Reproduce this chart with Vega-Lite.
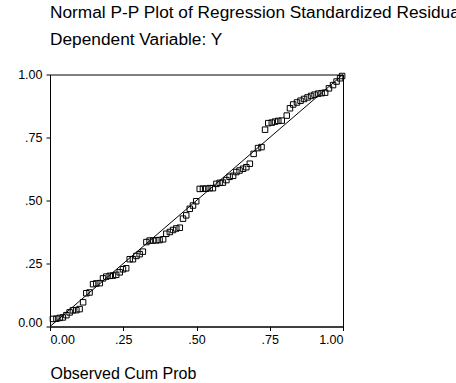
{
  "$schema": "https://vega.github.io/schema/vega-lite/v6.json",
  "width": 293,
  "height": 252,
  "autosize": {"type": "none"},
  "padding": {"left": 50, "top": 74.5, "right": 113, "bottom": 56.5},
  "background": "white",
  "title": {
    "text": ["Normal P-P Plot of Regression Standardized Residual", "Dependent Variable: Y"],
    "anchor": "start",
    "frame": "group",
    "font": "Liberation Sans",
    "fontSize": 17.3,
    "fontWeight": "normal",
    "color": "black",
    "lineHeight": 27,
    "offset": 20
  },
  "config": {
    "view": {"stroke": "black", "strokeWidth": 1},
    "axis": {
      "domainColor": "black",
      "tickColor": "black",
      "labelColor": "black",
      "labelFont": "Liberation Sans",
      "labelFontSize": 12.5,
      "tickSize": 4,
      "grid": false,
      "labelPadding": 3,
      "titleFont": "Liberation Sans",
      "titleColor": "black"
    }
  },
  "layer": [
    {
      "data": {"values": [{"px": 0, "py": 0}, {"px": 1, "py": 1}]},
      "mark": {"type": "line", "color": "black", "strokeWidth": 1},
      "encoding": {
        "x": {"field": "px", "type": "quantitative"},
        "y": {"field": "py", "type": "quantitative"}
      }
    },
    {
      "data": {"values": [
        {"obs": 0.010, "exp": 0.030}, {"obs": 0.022, "exp": 0.031}, {"obs": 0.033, "exp": 0.034},
        {"obs": 0.044, "exp": 0.036}, {"obs": 0.056, "exp": 0.045}, {"obs": 0.067, "exp": 0.056},
        {"obs": 0.078, "exp": 0.064}, {"obs": 0.090, "exp": 0.065}, {"obs": 0.101, "exp": 0.069},
        {"obs": 0.113, "exp": 0.096}, {"obs": 0.124, "exp": 0.132}, {"obs": 0.135, "exp": 0.135},
        {"obs": 0.147, "exp": 0.168}, {"obs": 0.158, "exp": 0.171}, {"obs": 0.170, "exp": 0.172},
        {"obs": 0.181, "exp": 0.191}, {"obs": 0.192, "exp": 0.198}, {"obs": 0.204, "exp": 0.201},
        {"obs": 0.215, "exp": 0.202}, {"obs": 0.226, "exp": 0.205}, {"obs": 0.238, "exp": 0.215},
        {"obs": 0.249, "exp": 0.227}, {"obs": 0.260, "exp": 0.231}, {"obs": 0.272, "exp": 0.267},
        {"obs": 0.283, "exp": 0.267}, {"obs": 0.295, "exp": 0.280}, {"obs": 0.306, "exp": 0.287},
        {"obs": 0.317, "exp": 0.297}, {"obs": 0.329, "exp": 0.335}, {"obs": 0.340, "exp": 0.341},
        {"obs": 0.352, "exp": 0.341}, {"obs": 0.363, "exp": 0.342}, {"obs": 0.374, "exp": 0.343},
        {"obs": 0.386, "exp": 0.346}, {"obs": 0.397, "exp": 0.368}, {"obs": 0.409, "exp": 0.375},
        {"obs": 0.420, "exp": 0.383}, {"obs": 0.431, "exp": 0.389}, {"obs": 0.443, "exp": 0.392},
        {"obs": 0.454, "exp": 0.428}, {"obs": 0.465, "exp": 0.441}, {"obs": 0.477, "exp": 0.467},
        {"obs": 0.488, "exp": 0.480}, {"obs": 0.499, "exp": 0.497}, {"obs": 0.511, "exp": 0.546},
        {"obs": 0.522, "exp": 0.547}, {"obs": 0.533, "exp": 0.547}, {"obs": 0.545, "exp": 0.549},
        {"obs": 0.556, "exp": 0.549}, {"obs": 0.568, "exp": 0.566}, {"obs": 0.579, "exp": 0.570},
        {"obs": 0.590, "exp": 0.571}, {"obs": 0.602, "exp": 0.581}, {"obs": 0.613, "exp": 0.594},
        {"obs": 0.625, "exp": 0.598}, {"obs": 0.636, "exp": 0.613}, {"obs": 0.647, "exp": 0.619},
        {"obs": 0.659, "exp": 0.626}, {"obs": 0.670, "exp": 0.632}, {"obs": 0.682, "exp": 0.646},
        {"obs": 0.695, "exp": 0.685}, {"obs": 0.710, "exp": 0.708}, {"obs": 0.722, "exp": 0.712},
        {"obs": 0.734, "exp": 0.781}, {"obs": 0.745, "exp": 0.807}, {"obs": 0.757, "exp": 0.809},
        {"obs": 0.768, "exp": 0.813}, {"obs": 0.779, "exp": 0.816}, {"obs": 0.791, "exp": 0.817},
        {"obs": 0.808, "exp": 0.837}, {"obs": 0.819, "exp": 0.866}, {"obs": 0.830, "exp": 0.881},
        {"obs": 0.843, "exp": 0.889}, {"obs": 0.855, "exp": 0.896}, {"obs": 0.867, "exp": 0.903},
        {"obs": 0.879, "exp": 0.909}, {"obs": 0.891, "exp": 0.915}, {"obs": 0.903, "exp": 0.920},
        {"obs": 0.915, "exp": 0.924}, {"obs": 0.927, "exp": 0.926}, {"obs": 0.939, "exp": 0.928},
        {"obs": 0.952, "exp": 0.945}, {"obs": 0.966, "exp": 0.958}, {"obs": 0.978, "exp": 0.972},
        {"obs": 0.990, "exp": 0.985}, {"obs": 0.997, "exp": 0.994}
      ]},
      "mark": {"type": "point", "shape": "square", "filled": false, "stroke": "black", "strokeWidth": 1, "size": 30, "opacity": 1},
      "encoding": {
        "x": {
          "field": "obs", "type": "quantitative",
          "scale": {"domain": [0, 1], "nice": false},
          "axis": {
            "values": [0, 0.25, 0.5, 0.75, 1],
            "labelExpr": "datum.value == 0 || datum.value == 1 ? format(datum.value, '.2f') : slice(format(datum.value, '.2f'), 1)",
            "title": "Observed Cum Prob",
            "titleAnchor": "start",
            "titleAlign": "left",
            "titleX": 0,
            "titleY": 47,
            "titleBaseline": "middle",
            "titleFontSize": 16,
            "titleFontWeight": "normal"
          }
        },
        "y": {
          "field": "exp", "type": "quantitative",
          "scale": {"domain": [0, 1], "nice": false},
          "axis": {
            "values": [0, 0.25, 0.5, 0.75, 1],
            "labelExpr": "datum.value == 0 || datum.value == 1 ? format(datum.value, '.2f') : slice(format(datum.value, '.2f'), 1)",
            "labelBaseline": {"condition": {"test": "datum.value == 0", "value": "alphabetic"}, "value": "middle"},
            "labelPadding": 4,
            "title": null
          }
        }
      }
    }
  ]
}
